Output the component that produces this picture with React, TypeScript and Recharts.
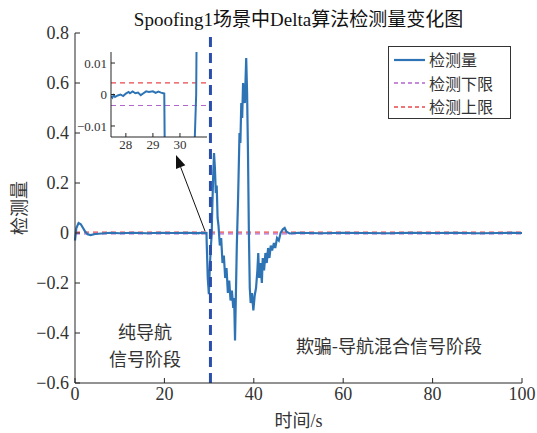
import { LineChart, Line, XAxis, YAxis, ReferenceLine } from "recharts";

// 检测量 time series (s, value)
const times = [
  0, 0.3, 0.8, 1.3, 1.8, 2.3, 2.8, 3.5, 4.5, 6, 8, 10, 13, 16, 19, 22, 25,
  27.45, 27.5, 27.55, 27.6, 27.7, 27.8, 27.9, 28.0, 28.1, 28.15, 28.25, 28.35,
  28.45, 28.55, 28.65, 28.75, 28.85, 29.0, 29.1, 29.2, 29.3, 29.38, 29.42,
  29.45, 29.7, 29.95, 30.2, 30.45, 30.6, 30.65, 30.9, 31.1, 31.3, 31.5, 31.7,
  31.9, 32.1, 32.4, 32.7, 33.0, 33.3, 33.6, 33.9, 34.2, 34.5, 34.8, 35.1,
  35.4, 35.6, 35.8, 36.0, 36.2, 36.5, 36.8, 37.0, 37.2, 37.4, 37.6, 37.8,
  38.0, 38.3, 38.5, 38.7, 38.9, 39.1, 39.3, 39.6, 39.9, 40.2, 40.5, 40.8,
  41.0, 41.2, 41.5, 41.8, 42.0, 42.3, 42.6, 42.9, 43.2, 43.5, 43.8, 44.1,
  44.5, 44.8, 45.2, 45.6, 46.0, 46.5, 46.9, 47.3, 48, 50, 55, 60, 65, 70, 75,
  80, 85, 90, 95, 98, 100,
];
const values = [
  -0.03, 0.02, 0.04, 0.035, 0.02, 0.005, -0.005, -0.008, -0.004, -0.002,
  0.001, -0.001, 0.001, -0.001, 0.001, 0, 0.001,
  -0.0005, -0.001, -0.0002, -0.0008, -0.0003, 0.0, -0.0005, 0.0003, 0.0008,
  0.0004, 0.001, 0.0004, 0.0006, -0.0002, 0.0004, 0.001, 0.0008, 0.001,
  0.0005, 0.0009, 0.0006, 0.0004, 0.0003,
  -0.03, -0.18, -0.245, -0.12, -0.04, 0.0, 0.06, 0.22, 0.32, 0.26, 0.16,
  0.19, 0.06, 0.03, -0.05, -0.02, -0.12, -0.09, -0.18, -0.14, -0.24, -0.19,
  -0.27, -0.23, -0.3, -0.26, -0.43, -0.24, -0.05, 0.15, 0.4, 0.36, 0.52,
  0.46, 0.6, 0.55, 0.52, 0.7, 0.56, 0.32, 0.0, -0.22, -0.28, -0.24, -0.31,
  -0.25, -0.22, -0.15, -0.08, -0.18, -0.12, -0.2, -0.1, -0.15, -0.08, -0.12,
  -0.06, -0.1, -0.05, -0.07, -0.04, -0.06, -0.02, -0.03, 0.0, 0.015, 0.02,
  0.005, -0.002, 0.001, -0.001, 0.001, 0, -0.001, 0.001, 0, 0.001, -0.001, 0,
  0.001, 0,
];

const upperLimit = 0.0037; // 检测上限
const lowerLimit = -0.0035; // 检测下限
const switchTime = 30.3;

const xTicks = [0, 20, 40, 60, 80, 100];
const yTicks = [-0.6, -0.4, -0.2, 0, 0.2, 0.4, 0.6, 0.8];
const insetXTicks = [28, 29, 30];
const insetYTicks = [-0.01, 0, 0.01];

const arrowFrom = { x: 29.08, y: 0.008 };
const arrowTo = { x: 22.6, y: 0.312 };

const data = times.map((t, i) => ({ t, v: values[i] }));
const insetData = data.filter((d) => d.t >= 27 && d.t <= 31.5);

const FONT = '"Liberation Serif", "Noto Sans CJK SC", serif';
const CJK = '"Noto Sans CJK SC", sans-serif';
const BLUE = "#2e74b5";
const RED = "#e8474b";
const PURPLE = "#b266cc";
const AXIS = "#262626";

const fmt = (v: number) =>
  v === 0 ? "0" : String(Number(v.toFixed(2))).replace("-", "\u2212");

const Arrow = (p: any) => {
  const { x1, y1, x2, y2 } = p;
  const ang = Math.atan2(y2 - y1, x2 - x1);
  const len = 13;
  const w = 5;
  const bx = x2 - len * Math.cos(ang);
  const by = y2 - len * Math.sin(ang);
  const nx = -Math.sin(ang) * w;
  const ny = Math.cos(ang) * w;
  return (
    <g>
      <line x1={x1} y1={y1} x2={bx} y2={by} stroke="#111" strokeWidth={1} />
      <polygon
        points={`${x2},${y2} ${bx + nx},${by + ny} ${bx - nx},${by - ny}`}
        fill="#111"
      />
    </g>
  );
};

const YLabel = (p: any) => {
  const vb = p.viewBox;
  const x = vb.x + 8;
  const y = vb.y + vb.height / 2;
  return (
    <text
      x={x}
      y={y}
      transform={`rotate(-90, ${x}, ${y})`}
      textAnchor="middle"
      dominantBaseline="central"
      fontFamily={CJK}
      fontSize={18}
      fill="#333"
      stroke="none"
    >
      检测量
    </text>
  );
};

const legendItems = [
  { name: "检测量", color: BLUE, dash: undefined, w: 2.2 },
  { name: "检测下限", color: PURPLE, dash: "4 3", w: 1.3 },
  { name: "检测上限", color: RED, dash: "4 3", w: 1.3 },
];

const noteStyle = {
  position: "absolute" as const,
  textAlign: "center" as const,
  fontFamily: CJK,
  fontSize: 18,
  lineHeight: "26px",
  color: "#333",
  whiteSpace: "nowrap" as const,
};

export default function App() {
  return (
    <div
      style={{
        position: "absolute",
        left: 0,
        top: 0,
        width: 537,
        height: 433,
        background: "#fff",
        fontFamily: FONT,
      }}
    >
      <div
        style={{
          position: "absolute",
          left: 75,
          width: 447,
          top: 4,
          textAlign: "center",
          fontSize: 19,
          color: "#111",
          whiteSpace: "nowrap",
        }}
      >
        Spoofing1场景中Delta算法检测量变化图
      </div>

      <LineChart
        width={537}
        height={433}
        data={data}
        margin={{ top: 33, right: 15, left: 10, bottom: 2 }}
        style={{ position: "absolute", left: 0, top: 0 }}
      >
        <XAxis
          dataKey="t"
          type="number"
          domain={[0, 100]}
          ticks={xTicks}
          height={48}
          tickSize={-5}
          tickMargin={9}
          stroke={AXIS}
          tick={{ fontSize: 18, fill: "#333", fontFamily: FONT }}
          label={{
            value: "时间/s",
            position: "insideBottom",
            offset: 4,
            fontSize: 18,
            fill: "#333",
            fontFamily: FONT,
          }}
        />
        <XAxis
          xAxisId="top"
          orientation="top"
          type="number"
          domain={[0, 100]}
          height={0}
          tick={false}
          tickLine={false}
          stroke={AXIS}
        />
        <YAxis
          type="number"
          domain={[-0.6, 0.8]}
          ticks={yTicks}
          width={65}
          tickSize={-5}
          tickMargin={11}
          stroke={AXIS}
          tickFormatter={fmt}
          tick={{ fontSize: 18, fill: "#333", fontFamily: FONT }}
          label={{ content: YLabel }}
        />
        <YAxis
          yAxisId="right"
          orientation="right"
          width={0}
          tick={false}
          tickLine={false}
          stroke={AXIS}
        />
        <ReferenceLine y={lowerLimit} stroke={PURPLE} strokeWidth={1.3} strokeDasharray="5 4" />
        <ReferenceLine y={upperLimit} stroke={RED} strokeWidth={1.3} strokeDasharray="5 4" />
        <Line
          dataKey="v"
          stroke={BLUE}
          strokeWidth={2.2}
          dot={false}
          isAnimationActive={false}
        />
        <ReferenceLine
          x={switchTime}
          stroke="#2a4fa8"
          strokeWidth={3}
          strokeDasharray="10 6"
        />
        <ReferenceLine segment={[arrowFrom, arrowTo]} shape={Arrow} />
      </LineChart>

      {/* inset */}
      <div style={{ position: "absolute", left: 60, top: 45 }}>
        <LineChart
          width={150}
          height={114}
          data={insetData}
          margin={{ top: 7, right: 3, left: 6, bottom: 2 }}
        >
          <XAxis
            dataKey="t"
            type="number"
            domain={[27.45, 31]}
            ticks={insetXTicks}
            allowDataOverflow
            height={20}
            tickSize={-4}
            tickMargin={7}
            stroke={AXIS}
            tick={{ fontSize: 13, fill: "#333", fontFamily: FONT }}
          />
          <XAxis
            xAxisId="top"
            orientation="top"
            type="number"
            domain={[27.45, 31]}
            height={0}
            tick={false}
            tickLine={false}
            stroke={AXIS}
          />
          <YAxis
            type="number"
            domain={[-0.0135, 0.0135]}
            ticks={insetYTicks}
            allowDataOverflow
            width={45}
            tickSize={-4}
            tickMargin={8}
            stroke={AXIS}
            tickFormatter={fmt}
            tick={{ fontSize: 13, fill: "#333", fontFamily: FONT }}
          />
          <YAxis
            yAxisId="right"
            orientation="right"
            width={0}
            tick={false}
            tickLine={false}
            stroke={AXIS}
          />
          <ReferenceLine y={upperLimit} stroke={RED} strokeWidth={1.2} strokeDasharray="5 4" />
          <ReferenceLine y={lowerLimit} stroke={PURPLE} strokeWidth={1.2} strokeDasharray="5 4" />
          <Line
            dataKey="v"
            stroke={BLUE}
            strokeWidth={2}
            dot={false}
            isAnimationActive={false}
          />
        </LineChart>
      </div>

      {/* legend */}
      <div
        style={{
          position: "absolute",
          left: 388,
          top: 46,
          width: 123,
          height: 73,
          border: "1px solid #333",
          background: "#fff",
          fontFamily: CJK,
          fontSize: 16,
          color: "#333",
          paddingTop: 1,
          boxSizing: "border-box",
        }}
      >
        {legendItems.map((it) => (
          <div
            key={it.name}
            style={{ display: "flex", alignItems: "center", height: 23.5, lineHeight: "23.5px" }}
          >
            <svg width={40} height={20}>
              <line
                x1={5}
                x2={36}
                y1={10}
                y2={10}
                stroke={it.color}
                strokeWidth={it.w}
                strokeDasharray={it.dash}
              />
            </svg>
            <span>{it.name}</span>
          </div>
        ))}
      </div>

      {/* stage annotations */}
      <div style={{ ...noteStyle, left: 95, width: 100, top: 318 }}>纯导航</div>
      <div style={{ ...noteStyle, left: 95, width: 100, top: 344.5 }}>信号阶段</div>
      <div style={{ ...noteStyle, left: 269, width: 240, top: 332 }}>
        欺骗-导航混合信号阶段
      </div>
    </div>
  );
}
